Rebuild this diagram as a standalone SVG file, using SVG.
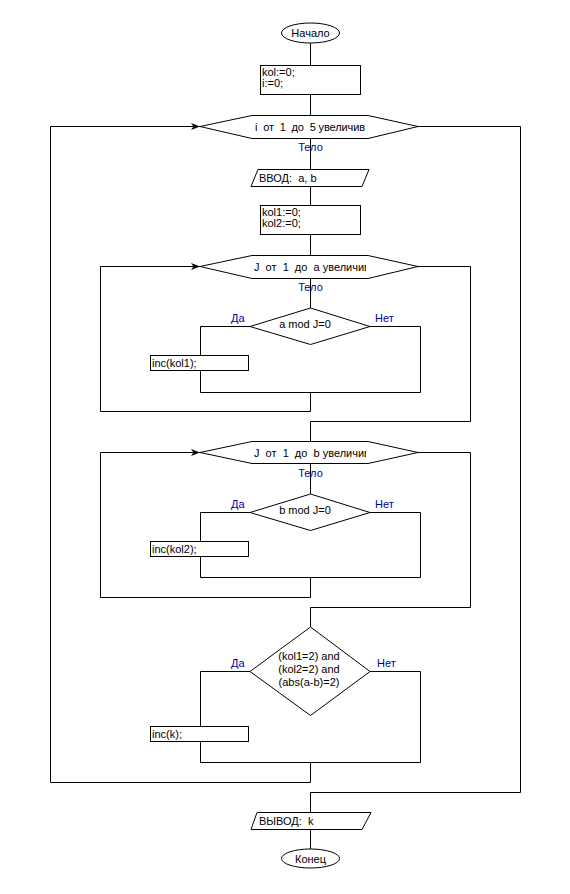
<svg xmlns="http://www.w3.org/2000/svg" width="570" height="894" viewBox="0 0 570 894">
<style>
.s{fill:#fff;stroke:#000;stroke-width:1}
.c{fill:none;stroke:#000;stroke-width:1}
.t{font-family:"Liberation Sans",Arial,sans-serif;font-size:11px;fill:#000;white-space:pre}
.m{text-anchor:middle}
.b{font-family:"Liberation Sans",Arial,sans-serif;font-size:11px;fill:#0000a0}
</style>
<defs>
<marker id="arr" markerUnits="userSpaceOnUse" markerWidth="10" markerHeight="7" refX="9" refY="3.5" orient="auto">
<path d="M0,0 L9,3.5 L0,7 L2.5,3.5 z" fill="#000"/>
</marker>
<clipPath id="h2"><rect x="250" y="250" width="116" height="30"/></clipPath>
<clipPath id="h3"><rect x="250" y="436" width="116" height="30"/></clipPath>
</defs>
<rect width="570" height="894" fill="#fff"/>
<g id="connectors">
<path class="c" d="M310.5,43 V65 M310.5,95 V115 M310.5,138 V169 M310.5,186 V205 M310.5,235 V255 M310.5,278 V308"/>
<path class="c" d="M250,326.5 H200.5 V355 M200.5,370 V392.5 M370,326.5 H420.5 V392.5 H200.5 M310.5,392.5 V411.5 H100.5 V266.5"/>
<path class="c" d="M100.5,266.5 H200" marker-end="url(#arr)"/>
<path class="c" d="M418,266.5 H470.5 V421.5 H310.5 V442"/>
<path class="c" d="M310.5,464 V494"/>
<path class="c" d="M250,512.5 H200.5 V541 M200.5,557 V577.5 M370,512.5 H420.5 V577.5 H200.5 M310.5,577.5 V597.5 H100.5 V452.5"/>
<path class="c" d="M100.5,452.5 H200" marker-end="url(#arr)"/>
<path class="c" d="M418,452.5 H470.5 V607.5 H310.5 V627"/>
<path class="c" d="M250,671.5 H200.5 V726 M200.5,742 V762.5 M370,671.5 H420.5 V762.5 H200.5 M310.5,762.5 V782.5 H50.5 V126.5"/>
<path class="c" d="M50.5,126.5 H200" marker-end="url(#arr)"/>
<path class="c" d="M418,126.5 H520.5 V792.5 H310.5 V812 M310.5,829 V849"/>
</g>
<g id="start">
<ellipse class="s" cx="310.5" cy="33" rx="29" ry="10"/>
<text class="t m" x="310.5" y="37">Начало</text>
</g>
<g id="init">
<rect class="s" x="260.5" y="65.5" width="100" height="29"/>
<text class="t" x="262" y="76">kol:=0;</text>
<text class="t" x="262" y="87">i:=0;</text>
</g>
<g id="loop-i">
<polygon class="s" points="200,126.5 252,115.5 368,115.5 418,126.5 368,138.5 252,138.5"/>
<text class="t" x="255" y="131" textLength="110" lengthAdjust="spacing">i  от  1  до  5 увеличив</text>
<text class="b m" x="310.5" y="151">Тело</text>
</g>
<g id="input">
<polygon class="s" points="258,169.5 369,169.5 362,186.5 251,186.5"/>
<text class="t" x="259" y="182">ВВОД:  a, b</text>
</g>
<g id="init2">
<rect class="s" x="260.5" y="205.5" width="100" height="29"/>
<text class="t" x="262" y="216">kol1:=0;</text>
<text class="t" x="262" y="227">kol2:=0;</text>
</g>
<g id="loop-ja">
<polygon class="s" points="200,266.5 252,255.5 368,255.5 418,266.5 368,278.5 252,278.5"/>
<text class="t" x="254" y="271" clip-path="url(#h2)">J  от  1  до  a увеличив</text>
<text class="b m" x="310.5" y="291">Тело</text>
</g>
<g id="if-a">
<polygon class="s" points="310.5,308 370,326.5 310.5,344.5 250,326.5"/>
<text class="t m" x="305" y="328">a mod J=0</text>
<text class="b" x="231" y="322">Да</text>
<text class="b" x="375" y="322">Нет</text>
</g>
<g id="inc-kol1">
<rect class="s" x="150.5" y="355.5" width="98" height="15"/>
<text class="t" x="152" y="367">inc(kol1);</text>
</g>
<g id="loop-jb">
<polygon class="s" points="200,452.5 252,441.5 368,441.5 418,452.5 368,463.5 252,463.5"/>
<text class="t" x="254" y="457" clip-path="url(#h3)">J  от  1  до  b увеличив</text>
<text class="b m" x="310.5" y="477">Тело</text>
</g>
<g id="if-b">
<polygon class="s" points="310.5,494 370,512.5 310.5,530.5 250,512.5"/>
<text class="t m" x="305" y="514">b mod J=0</text>
<text class="b" x="231" y="508">Да</text>
<text class="b" x="375" y="508">Нет</text>
</g>
<g id="inc-kol2">
<rect class="s" x="150.5" y="541.5" width="98" height="15"/>
<text class="t" x="152" y="553">inc(kol2);</text>
</g>
<g id="if-cond">
<polygon class="s" points="310.5,627 370,671.5 310.5,715.5 250,671.5"/>
<text class="t m" x="309" y="660">(kol1=2) and</text>
<text class="t m" x="309" y="673">(kol2=2) and</text>
<text class="t m" x="309" y="686">(abs(a-b)=2)</text>
<text class="b" x="231" y="667">Да</text>
<text class="b" x="377" y="667">Нет</text>
</g>
<g id="inc-k">
<rect class="s" x="150.5" y="726.5" width="98" height="15"/>
<text class="t" x="152" y="738">inc(k);</text>
</g>
<g id="output">
<polygon class="s" points="257,812.5 371,812.5 362,829.5 251,829.5"/>
<text class="t" x="259" y="825">ВЫВОД:  k</text>
</g>
<g id="end">
<ellipse class="s" cx="310.5" cy="858.5" rx="29" ry="9.5"/>
<text class="t m" x="310.5" y="862.5">Конец</text>
</g>
</svg>
